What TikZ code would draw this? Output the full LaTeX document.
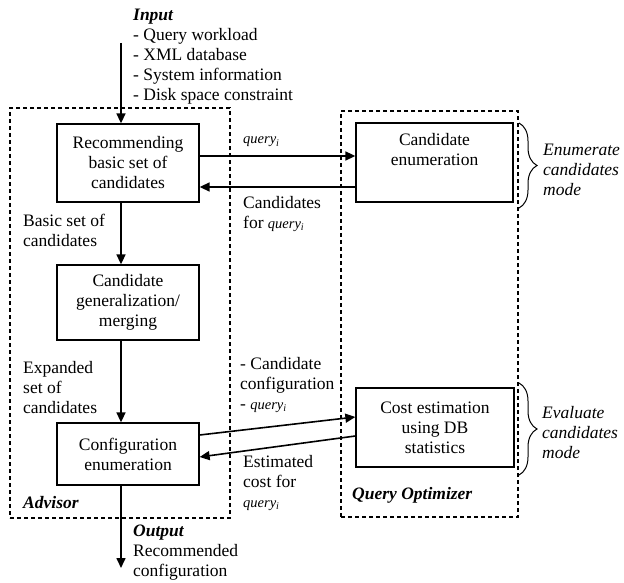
\documentclass[tikz,border=0pt]{standalone}
\usepackage{fontspec}
\setmainfont{Liberation Serif}
\usetikzlibrary{arrows.meta,decorations.pathreplacing}
\newcommand{\qi}{{\fontsize{14.5}{20}\selectfont\itshape query\textsubscript{i}}}
\begin{document}
\begin{tikzpicture}[x=1pt,y=-1pt,
  every node/.style={font=\fontsize{17.5}{20}\selectfont, inner sep=0pt},
  boxn/.style={draw, line width=1.3pt, align=center, minimum width=142pt},
  arr/.style={line width=1.6pt, -{Triangle[length=10pt,width=9pt]}},
  dsh/.style={draw, line width=1.2pt, dash pattern=on 4pt off 3pt},
  lbl/.style={align=left, anchor=west},
  brc/.style={decorate, decoration={brace, amplitude=18pt}, line width=1pt}]
\useasboundingbox (0,0) rectangle (624,583);
% dashed containers
\node[dsh, minimum width=220pt, minimum height=410pt] (adv) at (120,313) {};
\node[dsh, minimum width=177pt, minimum height=406pt] (qo) at (429.5,314) {};
% boxes
\node[boxn, minimum height=78pt] (b1) at (128,163) {Recommending\\basic set of\\candidates};
\node[boxn, minimum height=75pt] (b2) at (128,302.5) {Candidate\\generalization/\\merging};
\node[boxn, minimum height=62pt] (b3) at (128,454) {Configuration\\enumeration};
\node[boxn, minimum width=157pt, minimum height=79pt] (ce) at (434.5,162.5) {Candidate\\enumeration\\\strut};
\node[boxn, minimum width=158pt, minimum height=79pt] (cost) at (435,427.5) {Cost estimation\\using DB\\statistics};
% input / output texts
\node[lbl] (inp) at (133,57) {\textbf{\textit{Input}}\\- Query workload\\- XML database\\- System information\\- Disk space constraint};
\node[lbl] (outp) at (133,553) {\textbf{\textit{Output}}\\Recommended\\configuration};
% coordinates
\coordinate (inTop) at (121,43);
\coordinate (outEnd) at (121,568);
\coordinate (yq) at (0,156);
\coordinate (yc) at (0,187);
% vertical flow
\draw[arr] (inTop) -- (inTop |- b1.north);
\draw[arr] (inTop |- b1.south) -- (inTop |- b2.north);
\draw[arr] (inTop |- b2.south) -- (inTop |- b3.north);
\draw[arr] (inTop |- b3.south) -- (outEnd);
% horizontal
\draw[arr] (b1.east |- yq) -- (ce.west |- yq);
\draw[arr] (ce.west |- yc) -- (b1.east |- yc);
% diagonals
\draw[arr] ([yshift=19pt]b3.east) -- ([yshift=10.5pt]cost.west);
\draw[arr] ([yshift=-8.5pt]cost.west) -- ([yshift=-3pt]b3.east);
% labels
\node[lbl] (l1) at (23,230) {Basic set of\\candidates};
\node[lbl] (l2) at (23,388) {Expanded\\set of\\candidates};
\node[lbl] (lq) at (243,142) {\qi};
\node[lbl] (lc) at (243,214) {Candidates\\for \qi};
\node[lbl] (lcc) at (240,385) {- Candidate\\configuration\\- \qi};
\node[lbl] (le) at (243,483) {Estimated\\cost for\\\qi};
\node[lbl] (advl) at (23,503) {\textbf{\textit{Advisor}}};
\node[lbl] (qol) at (352,495) {\textbf{\textit{Query Optimizer}}};
\node[lbl, font=\fontsize{17.5}{20}\selectfont\itshape] (m1) at (543,170) {Enumerate\\candidates\\mode};
\node[lbl, font=\fontsize{17.5}{20}\selectfont\itshape] (m2) at (542,433) {Evaluate\\candidates\\mode};
% braces
\draw[brc] (519,123) -- (519,208);
\draw[brc] (519,383) -- (519,475);
\end{tikzpicture}
\end{document}
